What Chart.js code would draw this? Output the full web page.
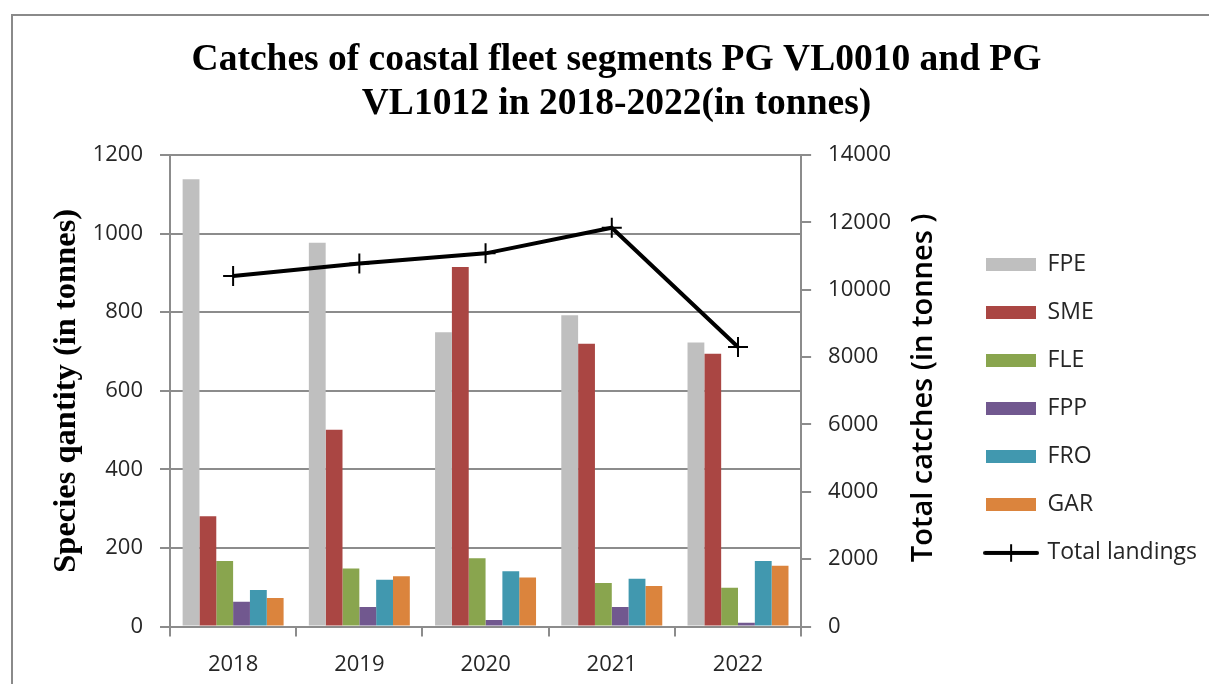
<!DOCTYPE html>
<html>
<head>
<meta charset="utf-8">
<script src="https://cdn.jsdelivr.net/npm/chart.js@4/dist/chart.umd.min.js"></script>
<style>
  html, body { margin: 0; padding: 0; background: #fff; overflow: hidden; }
  #frame { position: absolute; left: 11px; top: 14px; width: 1300px; height: 800px; border: 2px solid #8a8a8a; }
  #wrap { position: absolute; left: 0; top: 0; width: 1209px; height: 684px; }
</style>
</head>
<body>
<div id="frame"></div>
<div id="wrap"><canvas id="chart"></canvas></div>
<script>
// Categories and series (species in tonnes, totals in tonnes)
const years = ['2018', '2019', '2020', '2021', '2022'];
const FPE = [1138, 977, 749, 792, 723];
const SME = [281, 501, 915, 720, 694];
const FLE = [167, 148, 174, 111, 99];
const FPP = [63, 50, 17, 50, 10];
const FRO = [93, 119, 141, 122, 167];
const GAR = [73, 128, 125, 103, 155];
const totalLandings = [10410, 10780, 11080, 11840, 8300];

const speciesNames = ['FPE', 'SME', 'FLE', 'FPP', 'FRO', 'GAR'];
const speciesValues = [FPE, SME, FLE, FPP, FRO, GAR];
const speciesColors = ['#BFBFBF', '#AA4643', '#89A54E', '#71588F', '#4198AF', '#DB843D'];

const leftTicks = [0, 200, 400, 600, 800, 1000, 1200];
const rightTicks = [0, 2000, 4000, 6000, 8000, 10000, 12000, 14000];

const GRID = '#8c8c8c';
const TEXT = '#262626';
const TICK_FONT = { family: '"Open Sans"', size: 22 };

// Legend swatches: filled bars and a line with a cross marker
function barSwatch(color) {
  const c = document.createElement('canvas');
  c.width = 50; c.height = 13;
  const g = c.getContext('2d');
  g.fillStyle = color;
  g.fillRect(0, 0, 50, 13);
  return c;
}
function lineSwatch() {
  const c = document.createElement('canvas');
  c.width = 56; c.height = 18;
  const g = c.getContext('2d');
  g.strokeStyle = '#000';
  g.lineCap = 'round';
  g.lineWidth = 4;
  g.beginPath(); g.moveTo(2, 9); g.lineTo(54, 9); g.stroke();
  g.lineWidth = 2;
  g.beginPath(); g.moveTo(28, 1); g.lineTo(28, 17); g.stroke();
  return c;
}

const datasets = speciesNames.map((name, i) => ({
  type: 'bar',
  label: name,
  data: speciesValues[i],
  backgroundColor: speciesColors[i],
  yAxisID: 'y',
  order: 1,
  categoryPercentage: 0.8,
  barPercentage: 1.0
}));
datasets.push({
  type: 'line',
  label: 'Total landings',
  data: totalLandings,
  yAxisID: 'y1',
  order: 0,
  borderColor: '#000',
  backgroundColor: '#000',
  borderWidth: 4,
  tension: 0,
  pointStyle: 'cross',
  pointRadius: 10,
  pointBorderWidth: 2,
  pointBorderColor: '#000'
});

// Rotated right-hand axis title (reads bottom to top)
const rightTitle = {
  id: 'rightTitle',
  afterDraw(chart) {
    const a = chart.chartArea;
    const ctx = chart.ctx;
    ctx.save();
    ctx.translate(a.right + 123, (a.top + a.bottom) / 2 - 3);
    ctx.rotate(-Math.PI / 2);
    ctx.font = '600 29px "Open Sans"';
    ctx.fillStyle = '#000';
    ctx.textAlign = 'center';
    ctx.textBaseline = 'middle';
    ctx.fillText('Total catches (in tonnes )', 0, 0);
    ctx.restore();
  }
};

new Chart(document.getElementById('chart'), {
  data: { labels: years, datasets },
  plugins: [rightTitle],
  options: {
    responsive: true,
    maintainAspectRatio: false,
    animation: false,
    layout: { padding: { left: 26, right: 2, top: 0, bottom: -9 } },
    plugins: {
      tooltip: { enabled: false },
      title: {
        display: true,
        text: ['Catches of coastal fleet segments PG VL0010 and PG', 'VL1012 in 2018-2022(in tonnes)'],
        color: '#000',
        font: { family: '"Liberation Serif", "Times New Roman", serif', size: 37.5, weight: 'bold', lineHeight: 1.16 },
        padding: { top: 39, bottom: 29 }
      },
      legend: {
        position: 'right',
        align: 'start',
        maxWidth: 300,
        title: { display: true, text: '', font: { size: 12, lineHeight: 1.2 }, padding: { top: 214, bottom: 0 } },
        labels: {
          usePointStyle: true,
          pointStyleWidth: 50,
          padding: 25,
          color: TEXT,
          font: { family: '"Open Sans"', size: 23 },
          generateLabels(chart) {
            return chart.data.datasets.map((ds, i) => ({
              text: ds.label,
              datasetIndex: i,
              fillStyle: ds.type === 'line' ? '#000' : ds.backgroundColor,
              strokeStyle: 'rgba(0,0,0,0)',
              lineWidth: 0,
              hidden: false,
              fontColor: TEXT,
              pointStyle: ds.type === 'line' ? lineSwatch() : barSwatch(ds.backgroundColor)
            }));
          }
        }
      }
    },
    scales: {
      x: {
        offset: true,
        grid: { display: true, drawOnChartArea: false, offset: true, color: GRID, lineWidth: 2, tickLength: 10 },
        border: { display: true, color: GRID, width: 2 },
        ticks: { color: TEXT, font: TICK_FONT, padding: 15 }
      },
      y: {
        position: 'left',
        min: leftTicks[0],
        max: leftTicks[leftTicks.length - 1],
        afterBuildTicks(scale) { scale.ticks = leftTicks.map(v => ({ value: v })); },
        afterFit(scale) { scale.width = 144; },
        grid: { color: GRID, lineWidth: 2, tickLength: 10 },
        border: { display: true, color: GRID, width: 2 },
        ticks: { color: TEXT, font: TICK_FONT, padding: 17, callback: v => String(v) },
        title: {
          display: true,
          text: 'Species qantity (in tonnes)',
          color: '#000',
          font: { family: '"Liberation Serif", "Times New Roman", serif', size: 32.5, weight: 'bold', lineHeight: 1.2 },
          padding: { top: 21, bottom: 4 }
        }
      },
      y1: {
        position: 'right',
        min: rightTicks[0],
        max: rightTicks[rightTicks.length - 1],
        afterBuildTicks(scale) { scale.ticks = rightTicks.map(v => ({ value: v })); },
        afterFit(scale) { scale.width = 160; },
        grid: { drawOnChartArea: false, color: GRID, lineWidth: 2, tickLength: 10 },
        border: { display: true, color: GRID, width: 2 },
        ticks: { color: TEXT, font: TICK_FONT, padding: 17, callback: v => String(v) }
      }
    }
  }
});
</script>
</body>
</html>
